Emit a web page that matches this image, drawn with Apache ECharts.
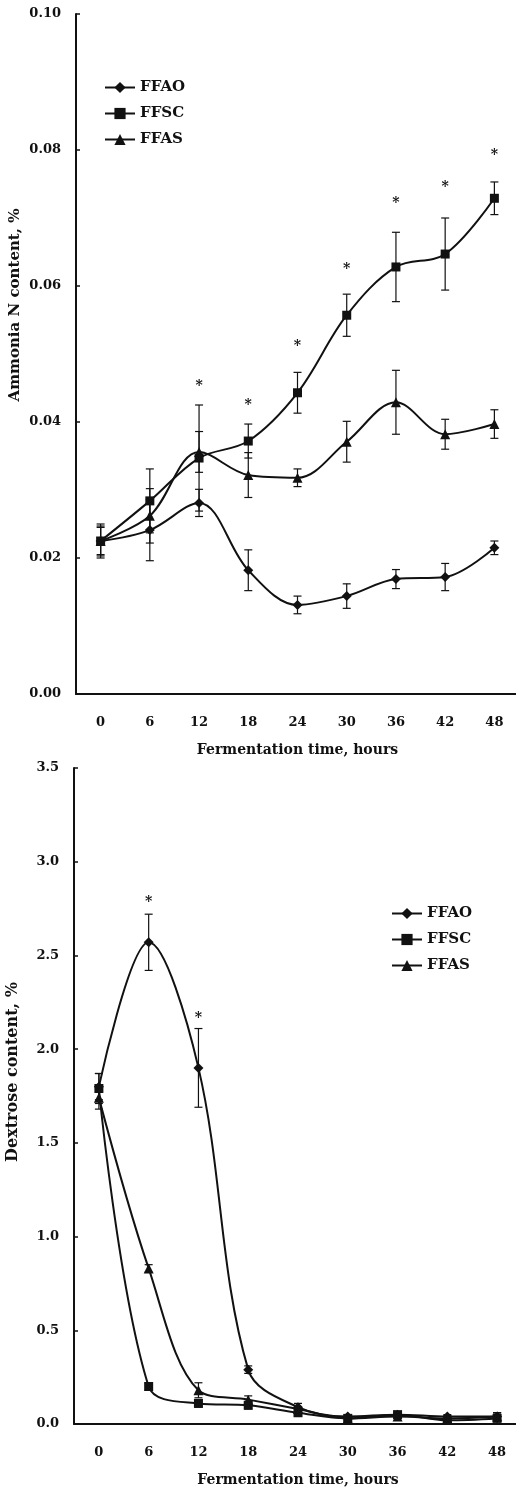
<!DOCTYPE html>
<html>
<head>
<meta charset="utf-8">
<script src="https://cdn.jsdelivr.net/npm/echarts@6/dist/echarts.min.js"></script>
<style>
    html, body { margin: 0; padding: 0; background: #fff; }
    #ammonia-chart { width: 516px; height: 760px; }
    #dextrose-chart { width: 516px; height: 729px; }
</style>
</head>
<body>
<div id="ammonia-chart"></div>
<div id="dextrose-chart"></div>
<script>
// 发酵时间（小时）
var hours = ["0", "6", "12", "18", "24", "30", "36", "42", "48"];

// 氨态氮含量 %
var ffaoN = [0.0225, 0.0241, 0.0281, 0.0182, 0.0131, 0.0144, 0.0169, 0.0172, 0.0215];
var ffaoNErr = [0.0022, 0.0045, 0.002, 0.003, 0.0013, 0.0018, 0.0014, 0.002, 0.001];
var ffscN = [0.0225, 0.0284, 0.0347, 0.0372, 0.0443, 0.0557, 0.0628, 0.0647, 0.0729];
var ffscNErr = [0.0025, 0.0047, 0.0078, 0.0025, 0.003, 0.0031, 0.0051, 0.0053, 0.0024];
var ffasN = [0.0225, 0.0262, 0.0356, 0.0322, 0.0318, 0.0371, 0.0429, 0.0382, 0.0397];
var ffasNErr = [0.002, 0.004, 0.003, 0.0033, 0.0013, 0.003, 0.0047, 0.0022, 0.0021];
var starN = [null, null, 0.0457, 0.0429, 0.0516, 0.0629, 0.0726, 0.075, 0.0796];
var ticksN = [0, 0.02, 0.04, 0.06, 0.08, 0.10];

// 葡萄糖含量 %
var ffaoD = [1.80, 2.57, 1.90, 0.29, 0.09, 0.04, 0.05, 0.04, 0.04];
var ffaoDErr = [0.07, 0.15, 0.21, 0.02, 0.02, 0.01, 0.01, 0.01, 0.02];
var ffscD = [1.79, 0.20, 0.11, 0.10, 0.06, 0.03, 0.05, 0.02, 0.03];
var ffscDErr = [0.08, 0.02, 0.02, 0.02, 0.01, 0.01, 0.01, 0.01, 0.03];
var ffasD = [1.74, 0.83, 0.18, 0.13, 0.08, 0.03, 0.04, 0.03, 0.04];
var ffasDErr = [0.06, 0.02, 0.04, 0.02, 0.01, 0.01, 0.01, 0.01, 0.02];
var starD = [null, 2.80, 2.18, null, null, null, null, null, null];
var ticksD = [0, 0.5, 1.0, 1.5, 2.0, 2.5, 3.0, 3.5];

var names = ["FFAO", "FFSC", "FFAS"];
var symbols = ["diamond", "rect", "triangle"];
var symbolSizes = [10, 9, 10];
var font = "DejaVu Serif";

// 误差线
function errorSeries(values, errs) {
    return {
        type: "custom",
        silent: true,
        z: 2,
        data: values.map(function(v, i) { return [i, v, errs[i]]; }),
        renderItem: function(params, api) {
            var i = api.value(0), v = api.value(1), e = api.value(2);
            var top = api.coord([i, v + e]);
            var bot = api.coord([i, v - e]);
            var style = { stroke: "#111", lineWidth: 1.2 };
            return {
                type: "group",
                children: [
                    { type: "line", shape: { x1: top[0], y1: top[1], x2: bot[0], y2: bot[1] }, style: style },
                    { type: "line", shape: { x1: top[0] - 4, y1: top[1], x2: top[0] + 4, y2: top[1] }, style: style },
                    { type: "line", shape: { x1: bot[0] - 4, y1: bot[1], x2: bot[0] + 4, y2: bot[1] }, style: style }
                ]
            };
        }
    };
}
// 显著性星号
function starSeries(stars) {
    return {
        type: "custom",
        silent: true,
        z: 4,
        data: stars.map(function(v, i) { return [i, v]; }).filter(function(d) { return d[1] !== null; }),
        renderItem: function(params, api) {
            var p = api.coord([api.value(0), api.value(1)]);
            return {
                type: "text",
                style: {
                    x: p[0], y: p[1] + 3, text: "*",
                    fontFamily: font, fontWeight: "bold", fontSize: 14,
                    align: "center", verticalAlign: "middle", fill: "#111"
                }
            };
        }
    };
}
function lineSeries(name, idx, values) {
    return {
        name: name,
        type: "line",
        smooth: 0.35,
        z: 3,
        data: values,
        symbol: symbols[idx],
        symbolSize: symbolSizes[idx],
        itemStyle: { color: "#111" },
        lineStyle: { color: "#111", width: 2 }
    };
}
function buildOption(cfg) {
    var series = [];
    cfg.values.forEach(function(vals, k) {
        series.push(errorSeries(vals, cfg.errs[k]));
    });
    cfg.values.forEach(function(vals, k) {
        series.push(lineSeries(names[k], k, vals));
    });
    series.push(starSeries(cfg.stars));
    var ticks = cfg.ticks;
    return {
        animation: false,
        backgroundColor: "#fff",
        grid: cfg.grid,
        legend: {
            data: names,
            orient: "vertical",
            left: cfg.legendPos[0],
            top: cfg.legendPos[1],
            padding: 0,
            itemWidth: 30,
            itemHeight: 14,
            itemGap: 11,
            textStyle: { fontFamily: font, fontWeight: "bold", fontSize: 15, color: "#111" }
        },
        xAxis: {
            type: "category",
            data: hours,
            boundaryGap: true,
            name: "Fermentation time, hours",
            nameLocation: "middle",
            nameGap: 49,
            nameTextStyle: { fontFamily: font, fontWeight: "bold", fontSize: 14, color: "#111" },
            axisLine: { lineStyle: { color: "#111", width: 2 } },
            axisTick: { show: false },
            axisLabel: { margin: 22, fontFamily: font, fontWeight: "bold", fontSize: 13, color: "#111" },
            splitLine: { show: false }
        },
        yAxis: {
            type: "value",
            min: ticks[0],
            max: ticks[ticks.length - 1],
            interval: ticks[1] - ticks[0],
            axisLine: { show: true, lineStyle: { color: "#111", width: 2 } },
            axisTick: { show: true, inside: true, length: 4, lineStyle: { color: "#111", width: 1.5 } },
            axisLabel: {
                margin: 15, fontFamily: font, fontWeight: "bold", fontSize: 13, color: "#111",
                formatter: function(v) { return v.toFixed(cfg.digits); }
            },
            splitLine: { show: false }
        },
        graphic: [{
            type: "text",
            x: cfg.yTitlePos[0],
            y: cfg.yTitlePos[1],
            rotation: Math.PI / 2,
            style: {
                text: cfg.yTitle, fontFamily: font, fontWeight: "bold", fontSize: cfg.yTitleSize,
                fill: "#111", align: "center", verticalAlign: "middle"
            }
        }],
        series: series
    };
}

var ammoniaChart = echarts.init(document.getElementById("ammonia-chart"));
var dextroseChart = echarts.init(document.getElementById("dextrose-chart"));

ammoniaChart.setOption(buildOption({
    values: [ffaoN, ffscN, ffasN],
    errs: [ffaoNErr, ffscNErr, ffasNErr],
    stars: starN,
    ticks: ticksN,
    digits: 2,
    grid: { left: 76, top: 14, width: 443, height: 680, outerBoundsMode: "none" },
    legendPos: [104, 80],
    yTitle: "Ammonia N content, %",
    yTitleSize: 15,
    yTitlePos: [15, 305]
}));

dextroseChart.setOption(buildOption({
    values: [ffaoD, ffscD, ffasD],
    errs: [ffaoDErr, ffscDErr, ffasDErr],
    stars: starD,
    ticks: ticksD,
    digits: 1,
    grid: { left: 74, top: 8, width: 448, height: 656, outerBoundsMode: "none" },
    legendPos: [391, 146],
    yTitle: "Dextrose content, %",
    yTitleSize: 16,
    yTitlePos: [13, 312]
}));
</script>
</body>
</html>
